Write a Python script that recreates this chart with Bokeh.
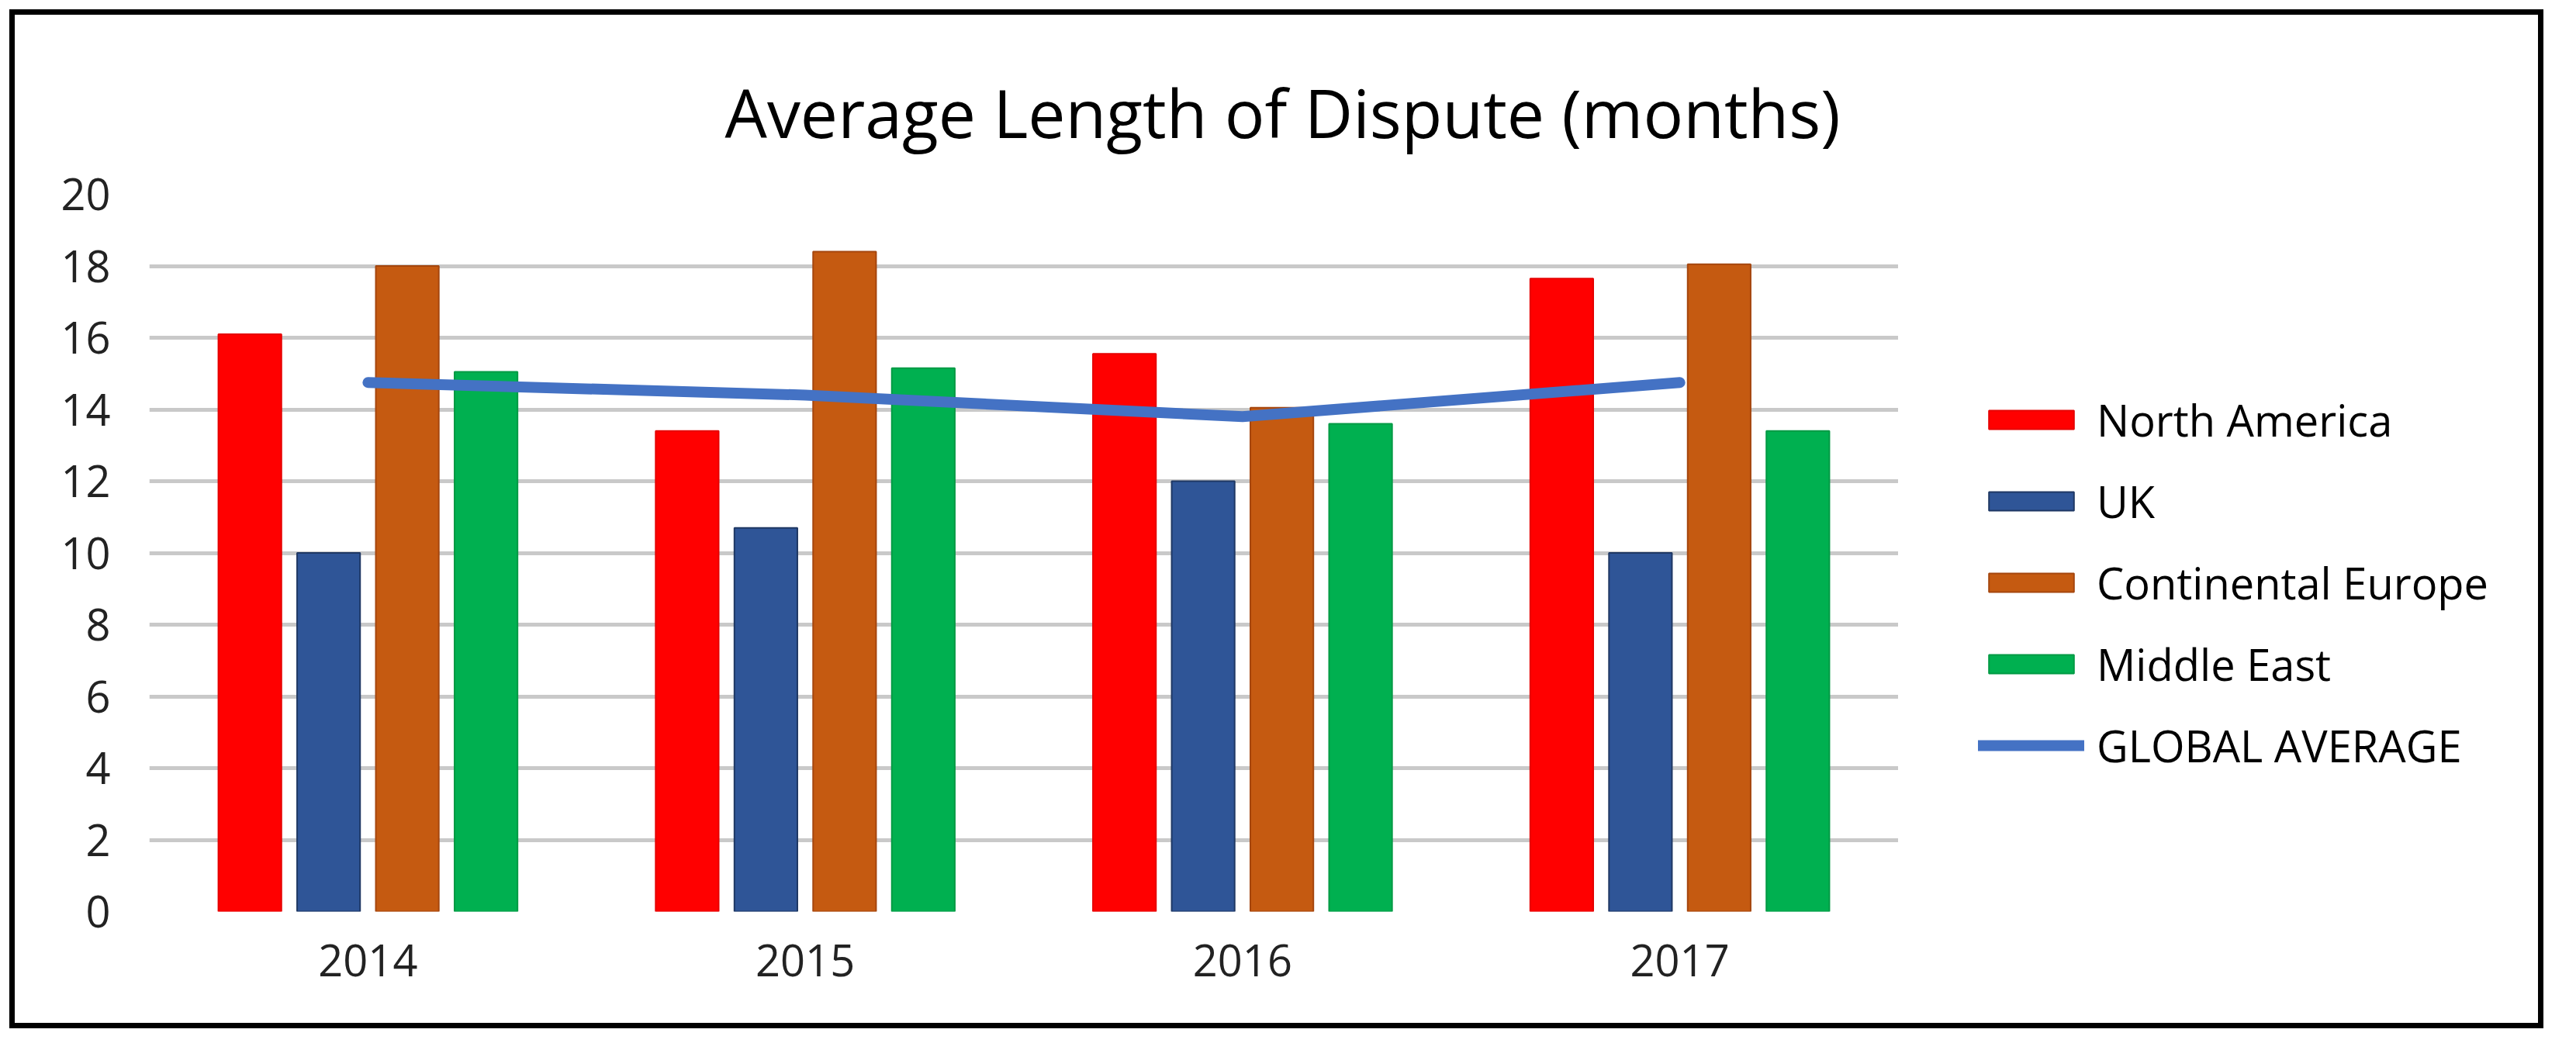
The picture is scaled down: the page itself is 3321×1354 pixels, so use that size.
from bokeh.plotting import figure
from bokeh.layouts import row
from bokeh.models import (ColumnDataSource, FactorRange, Range1d, FixedTicker, Legend,
                          LegendItem, Title)
from bokeh.transform import dodge
from bokeh.embed import file_html
from bokeh.resources import INLINE

# ---- data ----
years = ["2014", "2015", "2016", "2017"]
north_america = [16.1, 13.4, 15.55, 17.65]
uk = [10.0, 10.7, 12.0, 10.0]
continental_europe = [18.0, 18.4, 14.05, 18.05]
middle_east = [15.05, 15.15, 13.6, 13.4]
global_average = [14.75, 14.4, 13.8, 14.75]
y_ticks = [0, 2, 4, 6, 8, 10, 12, 14, 16, 18, 20]
title_text = "Average Length of Dispute (months)"

FONT = "Open Sans"

src = ColumnDataSource(dict(year=years, na=north_america, uk=uk, ce=continental_europe,
                            me=middle_east, avg=global_average))

series = [
    ("North America", "na", -0.27, "#FF0000", "#E60000"),
    ("UK", "uk", -0.09, "#2F5597", "#1F3864"),
    ("Continental Europe", "ce", 0.09, "#C55A11", "#A5460E"),
    ("Middle East", "me", 0.27, "#00B050", "#009A44"),
]

# ---------------- main chart ----------------
p = figure(title=None, x_range=FactorRange(*years, range_padding=0), y_range=Range1d(0, 20),
           width=2428, height=1300, output_backend="svg", toolbar_location=None,
           min_border_left=173, min_border_top=231, min_border_right=0, min_border_bottom=144)
p.outline_line_color = None
p.background_fill_color = "white"
p.border_fill_color = "white"

# spacer below the title, then the title itself
p.add_layout(Title(text=" ", text_font_size="2px", standoff=44), "above")
p.add_layout(Title(text=title_text, text_font=FONT, text_font_size="86px",
                   text_font_style="normal", text_color="black",
                   align="left", offset=742, vertical_align="bottom", standoff=0), "above")

for name, col, off, fill, line in series:
    p.vbar(x=dodge("year", off, range=p.x_range), top=col, width=0.144, bottom=0,
           source=src, fill_color=fill, line_color=line, line_width=2)
p.line(x="year", y="avg", source=src, line_color="#4472C4", line_width=14,
       line_cap="round", line_join="round")

for ax in (p.xaxis[0], p.yaxis[0]):
    ax.axis_line_color = None
    ax.major_tick_line_color = None
    ax.minor_tick_line_color = None
    ax.major_tick_out = 0
    ax.major_tick_in = 0
    ax.major_label_text_font = FONT
    ax.major_label_text_font_size = "56px"
    ax.major_label_text_color = "#222222"
p.yaxis.ticker = FixedTicker(ticks=y_ticks)
p.yaxis.major_label_standoff = 50
p.xaxis.major_label_standoff = 42
p.xgrid.grid_line_color = None
p.ygrid.grid_line_color = "#C9C9C9"
p.ygrid.grid_line_width = 5

# ---------------- legend panel ----------------
# the same series, hidden, so that only their legend entries are drawn here
lg = figure(x_range=FactorRange(*years), y_range=Range1d(-2, -1),
            width=825, height=1300, output_backend="svg", toolbar_location=None,
            x_axis_location=None, y_axis_location=None,
            min_border_left=0, min_border_right=0, min_border_top=0, min_border_bottom=0)
lg.outline_line_color = None
lg.grid.visible = False
lg.background_fill_color = "white"
lg.border_fill_color = "white"

items = []
for name, col, off, fill, line in series:
    r = lg.vbar(x=dodge("year", off, range=lg.x_range), top=col, width=0.144, bottom=0,
                source=src, fill_color=fill, line_color=line, line_width=2, visible=False)
    items.append(LegendItem(label=name, renderers=[r]))
lr = lg.line(x="year", y="avg", source=src, line_color="#4472C4", line_width=14,
             line_cap="round", line_join="round", visible=False)
items.append(LegendItem(label="GLOBAL AVERAGE", renderers=[lr]))

legend = Legend(items=items, location=(103, 176), orientation="vertical",
                glyph_width=137, glyph_height=30, label_text_font=FONT,
                label_text_font_size="56px", label_text_color="black",
                label_standoff=16, spacing=29, padding=0, margin=0,
                border_line_color=None, background_fill_alpha=0)
lg.add_layout(legend, "center")

layout = row(p, lg, spacing=0)
layout.styles = {"border": "7px solid black", "box-sizing": "content-box",
                 "margin": "12px 0 0 12px", "background": "white"}

open("out.html", "w").write(file_html(layout, INLINE))
